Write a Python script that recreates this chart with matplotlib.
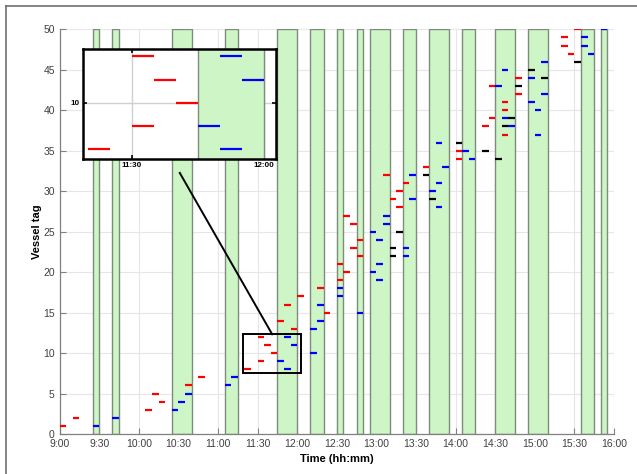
import matplotlib
matplotlib.use("Agg")
import matplotlib.pyplot as plt
from matplotlib.patches import Rectangle
from matplotlib.lines import Line2D

plt.rcParams['font.family'] = ['Liberation Sans', 'DejaVu Sans']

# Green windows (start, end)
windows = [("9:25", "9:30"), ("9:40", "9:45"), ("10:25", "10:40"), ("11:05", "11:15"),
           ("11:45", "12:00"), ("12:10", "12:20"), ("12:30", "12:35"), ("12:45", "12:50"),
           ("12:55", "13:10"), ("13:20", "13:30"), ("13:40", "13:55"), ("14:05", "14:15"),
           ("14:30", "14:45"), ("14:55", "15:10"), ("15:35", "15:45"), ("15:50", "15:55")]

red_tags = [1, 2, 3, 4, 5, 6, 7, 8, 9, 10, 11, 12, 13, 14, 15, 16, 17, 18, 19, 20, 21, 22, 23, 24,
            26, 27, 28, 29, 30, 31, 32, 33, 34, 35, 37, 38, 39, 40, 41, 42, 43, 44, 47, 48, 49, 50]
red_times = ["9:00", "9:10", "10:05", "10:15", "10:10", "10:35", "10:45", "11:20", "11:30", "11:40",
             "11:35", "11:30", "11:55", "11:45", "12:20", "11:50", "12:00", "12:15", "12:30", "12:35",
             "12:30", "12:45", "12:40", "12:45", "12:40", "12:35", "13:15", "13:10", "13:15", "13:20",
             "13:05", "13:35", "14:00", "14:00", "14:35", "14:20", "14:25", "14:35", "14:35", "14:45",
             "14:25", "14:45", "15:25", "15:20", "15:20", "15:30"]

blue_tags = list(range(1, 51))
blue_times = ["9:25", "9:40", "10:25", "10:30", "10:35", "11:05", "11:10", "11:50", "11:45", "12:10",
              "11:55", "11:50", "12:10", "12:15", "12:45", "12:15", "12:30", "12:30", "13:00", "12:55",
              "13:00", "13:20", "13:20", "13:00", "12:55", "13:05", "13:05", "13:45", "13:25", "13:40",
              "13:45", "13:25", "13:50", "14:10", "14:05", "13:45", "15:00", "14:40", "14:35", "15:00",
              "14:55", "15:05", "14:30", "14:55", "14:35", "15:05", "15:40", "15:35", "15:35", "15:50"]

black_tags = [22, 23, 25, 29, 32, 34, 35, 36, 38, 39, 43, 44, 45, 46]
black_times = ["13:10", "13:10", "13:15", "13:40", "13:35", "14:30", "14:20", "14:00", "14:35", "14:40",
               "14:45", "15:05", "14:55", "15:30"]

x_ticks = ["9:00", "9:30", "10:00", "10:30", "11:00", "11:30", "12:00", "12:30", "13:00", "13:30",
           "14:00", "14:30", "15:00", "15:30", "16:00"]
y_ticks = [0, 5, 10, 15, 20, 25, 30, 35, 40, 45, 50]

slot = 5  # minutes per dash


def m(t):
    h, mm = t.split(":")
    return (int(h) - 9) * 60 + int(mm)


GREEN = "#cdf5c5"
EDGE = "#7d8c7d"
GRAY = "#808080"


def draw(ax, lw):
    for a, b in windows:
        ax.add_patch(Rectangle((m(a), 0), m(b) - m(a), 50, facecolor=GREEN,
                               edgecolor=EDGE, linewidth=1.0, zorder=1))
    for tags, times, col in [(red_tags, red_times, "#ff0000"),
                             (blue_tags, blue_times, "#0000ff"),
                             (black_tags, black_times, "#000000")]:
        xs = [m(t) for t in times]
        ax.hlines(tags, xs, [x + slot for x in xs], colors=col, linewidth=lw,
                  zorder=3, capstyle='butt')


fig = plt.figure(figsize=(6.37, 4.74), dpi=100)
ax = fig.add_axes([0.0937, 0.0844, 0.964 - 0.0937, 0.938 - 0.0844])
draw(ax, 1.6)
ax.set_xlim(0, 420)
ax.set_ylim(0, 50)
ax.set_xticks([m(t) for t in x_ticks])
ax.set_xticklabels(x_ticks)
ax.set_yticks(y_ticks)
ax.grid(True, color="#e6e6e6", linewidth=0.8, zorder=0)
ax.set_axisbelow(True)
for s in ["top", "right"]:
    ax.spines[s].set_visible(False)
for s in ["left", "bottom"]:
    ax.spines[s].set_color(GRAY)
    ax.spines[s].set_linewidth(0.9)
ax.tick_params(direction="in", colors="#404040", labelsize=7.5, length=4, width=0.8,
               color=GRAY)
ax.set_xlabel("Time (hh:mm)", fontsize=8, fontweight="bold", labelpad=4)
ax.set_ylabel("Vessel tag", fontsize=8, fontweight="bold", labelpad=1)

# zoom rectangle
zx0, zx1 = m("11:19"), m("12:02") + 0.7
zy0, zy1 = 7.57, 12.32
ax.add_patch(Rectangle((zx0, zy0), zx1 - zx0, zy1 - zy0, fill=False, edgecolor="black",
                       linewidth=1.4, zorder=5))
ax.add_line(Line2D([m("10:31"), m("11:41")], [32.26, zy1], color="black", linewidth=1.4,
                   zorder=5, clip_on=False))

# inset
ins = fig.add_axes([0.1308, 0.6646, 0.3025, 0.232])
draw(ins, 1.6)
ins.set_xlim(zx0, zx1)
ins.set_ylim(zy0, zy1)
ins.set_xticks([m("11:30"), m("12:00")])
ins.set_xticklabels(["11:30", "12:00"])
ins.set_yticks([10])
ins.grid(True, color="#d0d0d0", linewidth=1.0, zorder=0)
ins.set_axisbelow(True)
for s in ins.spines.values():
    s.set_linewidth(1.8)
    s.set_color("black")
    s.set_zorder(6)
ins.tick_params(direction="in", labelsize=5.8, length=3, width=1.2, pad=2.5, top=True, right=True)
for lab in ins.get_xticklabels() + ins.get_yticklabels():
    lab.set_fontweight("bold")

# figure frame
fig.add_artist(Line2D([6 / 637, 6 / 637], [0, 1 - 6 / 474], transform=fig.transFigure,
                      color="#707070", linewidth=1.2))
fig.add_artist(Line2D([6 / 637, 1], [1 - 6 / 474, 1 - 6 / 474], transform=fig.transFigure,
                      color="#707070", linewidth=1.2))

fig.savefig("out.png", dpi=100)
